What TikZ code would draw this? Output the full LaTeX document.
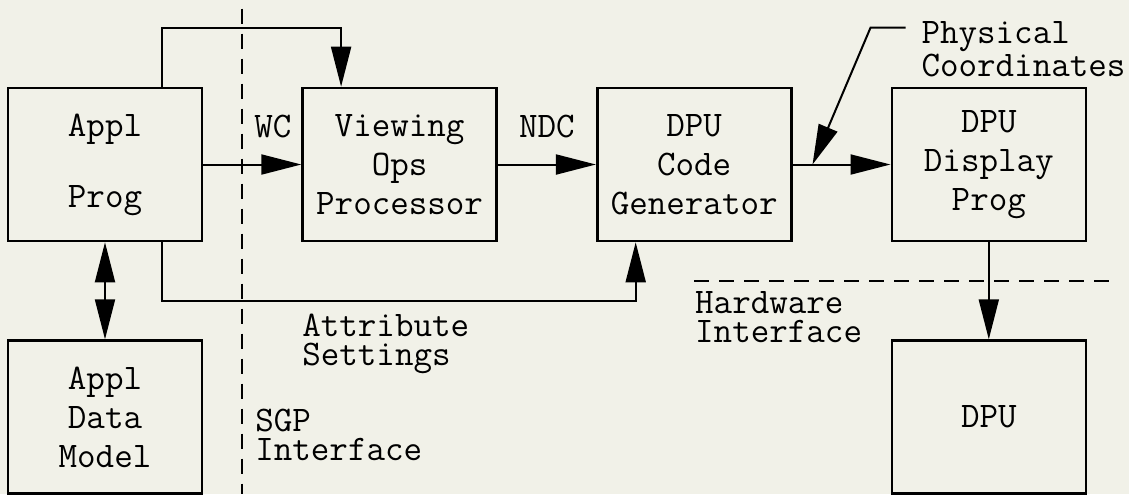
\documentclass[tikz,border=0pt]{standalone}
\usepackage{tikz}
\usetikzlibrary{arrows.meta,positioning}

\definecolor{paper}{RGB}{241,241,232}

\begin{document}
\begin{tikzpicture}[->,>={Triangle[length=20pt,width=10pt]},line width=1pt,
        node distance=48.5pt and 49pt,
        block/.style={draw,-,line width=1.3pt,minimum width=97pt,minimum height=76.5pt,
          inner sep=0pt,align=center,font=\ttfamily\fontsize{18}{19.5}\selectfont},
        lbl/.style={inner sep=0pt,align=left,font=\ttfamily\fontsize{18}{14.5}\selectfont},
        sep/.style={-,dash pattern=on 7.5pt off 5pt,line width=1pt}]

  \fill[paper] (-52.5pt,82.25pt) rectangle (512pt,-164.75pt);

  \node[block] (ap) {Appl\\[16pt]Prog};
  \node[block] (vop) [right=of ap] {Viewing\\Ops\\Processor};
  \node[block] (cg) [right=of vop] {DPU\\Code\\Generator};
  \node[block] (dp) [right=of cg] {DPU\\Display\\Prog};
  \node[block] (dm) [below=of ap] {Appl\\Data\\Model};
  \node[block] (dpu) [below=of dp] {DPU};

  \path (ap) edge node[lbl,above=13pt,pos=0.71] {WC} (vop)
        (vop) edge node[lbl,above=13pt] {NDC} (cg)
        (cg) edge (dp)
        (dp) edge (dpu);
  \draw[<->] (ap) -- (dm);

  % lines round the top and bottom
  \draw ([xshift=28.5pt]ap.north) -- ++(0,29.5pt) -| ([xshift=-29.25pt]vop.north);
  \draw ([xshift=28.5pt]ap.south) -- ++(0,-29.5pt) coordinate (abot)
        -| ([xshift=-29.25pt]cg.south);
  \node[lbl,anchor=north west,yshift=-6pt] (attr) at (vop.west |- abot) {Attribute\\Settings};

  % interfaces
  \coordinate (sgtop) at ([xshift=19.5pt,yshift=39pt]ap.north east);
  \coordinate (sgbot) at (sgtop |- 0,-164.75pt);
  \draw[sep] (sgtop) -- (sgbot);
  \node[lbl,anchor=north west,xshift=6pt,yshift=-34.5pt] (sgp) at (sgtop |- dm.north) {SGP\\Interface};

  \coordinate (hwl) at ([yshift=-19.5pt]cg.south);
  \coordinate (hwr) at ([xshift=14.5pt,yshift=-19.5pt]dp.south east);
  \draw[sep] (hwl) -- (hwr);
  \node[lbl,anchor=north west,yshift=-4.5pt] (hw) at (hwl) {Hardware\\Interface};

  \node[lbl,anchor=north west] (phys) at ([xshift=15pt,yshift=33pt]dp.north west) {Physical\\Coordinates};
  \coordinate (pc) at ([xshift=-39pt]dp.west);
  \draw ([xshift=-7.5pt,yshift=-3.5pt]phys.north west) -- ++(-17.5pt,0) -- (pc);

\end{tikzpicture}
\end{document}
